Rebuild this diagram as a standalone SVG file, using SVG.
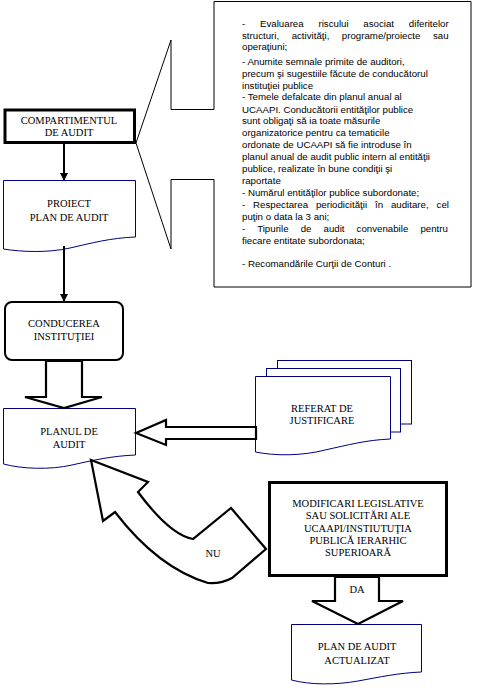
<svg xmlns="http://www.w3.org/2000/svg" width="496" height="697" viewBox="0 0 496 697">
<style>
.lbl{font-family:"Liberation Serif","Times New Roman",serif;font-size:10.5px;fill:#000;text-anchor:middle}
.ct{font-family:"Liberation Sans",Arial,sans-serif;font-size:9.7px;fill:#000}
.doc{fill:#fff;stroke:#000080;stroke-width:1}
.thick{fill:#fff;stroke:#000;stroke-width:3}
.blk{fill:#fff;stroke:#000;stroke-width:2.2;stroke-linejoin:miter}
.thin{fill:#fff;stroke:#000;stroke-width:1}
</style>
<defs>
<marker id="ah" viewBox="0 0 8 8" refX="7" refY="4" markerWidth="8" markerHeight="8" markerUnits="userSpaceOnUse" orient="auto">
<path d="M0,0 L8,4 L0,8 Z" fill="#000"/>
</marker>
</defs>
<rect width="496" height="697" fill="#fff"/>

<g id="callout">
<path class="thin" d="M214,1.5 H471 V287 H214 V179.5 H171 V249 L136,143 L171,40 V109.5 H214 Z"/>
<text class="ct" x="242" y="27" word-spacing="12.1">- Evaluarea riscului asociat diferitelor</text>
<text class="ct" x="242" y="38.5" word-spacing="9.8">structuri, activităţi, programe/proiecte sau</text>
<text class="ct" x="242" y="50">operaţiuni;</text>
<text class="ct" x="242" y="65">- Anumite semnale primite de auditori,</text>
<text class="ct" x="242" y="77">precum şi sugestiile făcute de conducătorul</text>
<text class="ct" x="242" y="88.5">instituţiei publice</text>
<text class="ct" x="242" y="100">- Temele defalcate din planul anual al</text>
<text class="ct" x="242" y="112.5">UCAAPI. Conducătorii entităţilor publice</text>
<text class="ct" x="242" y="124">sunt obligaţi să ia toate măsurile</text>
<text class="ct" x="242" y="135.5">organizatorice pentru ca tematicile</text>
<text class="ct" x="242" y="148">ordonate de UCAAPI să fie introduse în</text>
<text class="ct" x="242" y="160">planul anual de audit public intern al entităţii</text>
<text class="ct" x="242" y="172">publice, realizate în bune condiţii şi</text>
<text class="ct" x="242" y="184">raportate</text>
<text class="ct" x="242" y="196">- Numărul entităţilor publice subordonate;</text>
<text class="ct" x="242" y="207.5" word-spacing="5.2">- Respectarea  periodicităţii în auditare, cel</text>
<text class="ct" x="242" y="220">puţin o data la 3 ani;</text>
<text class="ct" x="242" y="232" word-spacing="9.4">-  Tipurile  de  audit  convenabile  pentru</text>
<text class="ct" x="242" y="243.5">fiecare entitate subordonata;</text>
<text class="ct" x="242" y="267">- Recomandările Curţii de Conturi .</text>
</g>

<g id="compartiment">
<rect class="thick" x="5" y="110" width="129.5" height="32.5"/>
<text class="lbl" x="69" y="124">COMPARTIMENTUL</text>
<text class="lbl" x="69" y="135.5">DE AUDIT</text>
</g>

<g id="proiect">
<path class="doc" d="M3.5,180.5 H135.5 V237 C110,238 92,243 70,248 C48,253 22,252 3.5,249 Z"/>
<text class="lbl" x="69" y="207">PROIECT</text>
<text class="lbl" x="69" y="220.5">PLAN DE AUDIT</text>
</g>

<g id="conducerea">
<rect x="5" y="302" width="118" height="58" rx="7" ry="7" fill="#fff" stroke="#000" stroke-width="2"/>
<text class="lbl" x="64" y="327">CONDUCEREA</text>
<text class="lbl" x="64" y="340">INSTITUŢIEI</text>
</g>

<g id="planul">
<path class="doc" d="M3.5,408.5 H135.5 V455 C112,456 94,460 72,465 C50,470 22,469 3.5,464 Z"/>
<text class="lbl" x="69" y="435">PLANUL DE</text>
<text class="lbl" x="69" y="448">AUDIT</text>
</g>

<g id="referat">
<rect class="doc" x="277.5" y="360.5" width="134" height="63.5"/>
<rect class="doc" x="266.5" y="368.5" width="134" height="63.5"/>
<path class="doc" d="M255.5,376.5 H390.5 V439 C366,440 348,445 325,450 C302,456 275,456 255.5,452 Z"/>
<text class="lbl" x="322" y="411.5">REFERAT DE</text>
<text class="lbl" x="322" y="424">JUSTIFICARE</text>
</g>

<g id="modificari">
<rect class="thick" x="269.5" y="482.5" width="177" height="93"/>
<text class="lbl" x="358" y="506.5">MODIFICARI LEGISLATIVE</text>
<text class="lbl" x="358" y="519">SAU SOLICITĂRI ALE</text>
<text class="lbl" x="358" y="531.5">UCAAPI/INSTIUTUŢIA</text>
<text class="lbl" x="358" y="543.5">PUBLICĂ IERARHIC</text>
<text class="lbl" x="358" y="556">SUPERIOARĂ</text>
</g>

<g id="actualizat">
<path class="doc" d="M291.5,624.5 H421.5 V672 C398,673 380,677 358,681 C336,685 310,685 291.5,680 Z"/>
<text class="lbl" x="357" y="650">PLAN DE AUDIT</text>
<text class="lbl" x="357" y="663.5">ACTUALIZAT</text>
</g>

<g id="connectors">
<line x1="64" y1="144" x2="64" y2="180" stroke="#000" stroke-width="2" marker-end="url(#ah)"/>
<line x1="64" y1="246" x2="64" y2="301" stroke="#000" stroke-width="2" marker-end="url(#ah)"/>
<polygon class="blk" points="46,361 46,397 25,397 64,408 102,397 82,397 82,361"/>
<polygon class="blk" points="136,433 166,420 166,427 256,427 256,439 166,439 166,445"/>
<polygon class="blk" points="335,577 335,601 312,601 358,624 403,601 379,601 379,577"/>
<text class="lbl" x="357" y="593">DA</text>
<path class="blk" stroke-width="1.8" d="M91,460 L148,482 L138,492 Q170,535 193,539 L231,508 L266,549 L232,578 Q221,584 208,583 Q158,568 115,512 L103,521 Z"/>
<text class="lbl" x="213" y="557">NU</text>
</g>
</svg>
